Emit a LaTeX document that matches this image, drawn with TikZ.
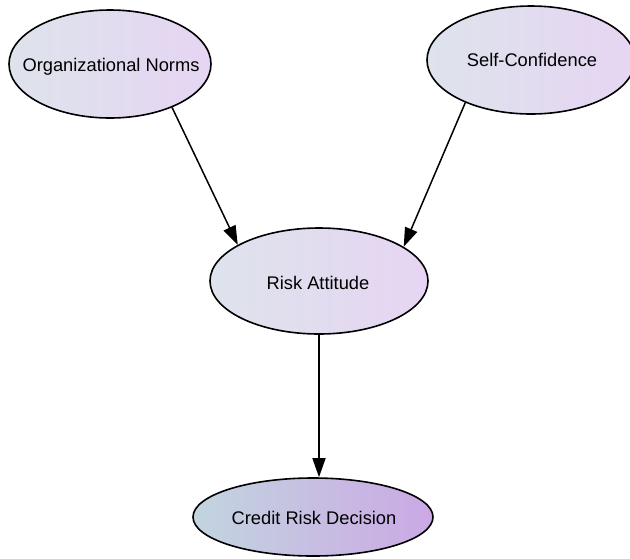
\documentclass[tikz,border=0pt]{standalone}
\usepackage{fontspec}
\setmainfont{Liberation Sans}
\usetikzlibrary{shapes.geometric,arrows.meta}
\definecolor{lightL}{HTML}{DEE3EC}
\definecolor{lightR}{HTML}{E6D5F3}
\definecolor{darkL}{HTML}{C2D5DF}
\definecolor{darkR}{HTML}{CBA8E5}
\tikzset{
  var/.style={ellipse, draw=black, line width=1.6pt, inner sep=0pt,
    left color=lightL, right color=lightR},
  outcome/.style={var, left color=darkL, right color=darkR},
  lbl/.style={font=\fontsize{18.3}{21}\selectfont, inner sep=0pt},
  arr/.style={line width=1.5pt, -{Triangle[length=19pt,width=13pt]}}
}
\begin{document}
\begin{tikzpicture}[x=1pt,y=-1pt]
\useasboundingbox (0,0) rectangle (630,558);
\node[var, minimum width=202, minimum height=108] (org) at (110,64) {};
\node[lbl] (orgT) at (111,67) {Organizational Norms};
\node[var, minimum width=208, minimum height=108] (self) at (531,60) {};
\node[lbl] (selfT) at (532,60) {Self-Confidence};
\node[var, minimum width=218, minimum height=106] (risk) at (319,281) {};
\node[lbl] (riskT) at (318,283) {Risk Attitude};
\node[outcome, minimum width=240, minimum height=78] (credit) at (313,517) {};
\node[lbl] (creditT) at (314,518) {Credit Risk Decision};
\draw[arr] (org.-35) -- (risk.156);
\draw[arr] (self.-147) -- (risk.22);
\draw[arr] (risk.south) -- (risk.south |- credit.north);
\end{tikzpicture}
\end{document}
